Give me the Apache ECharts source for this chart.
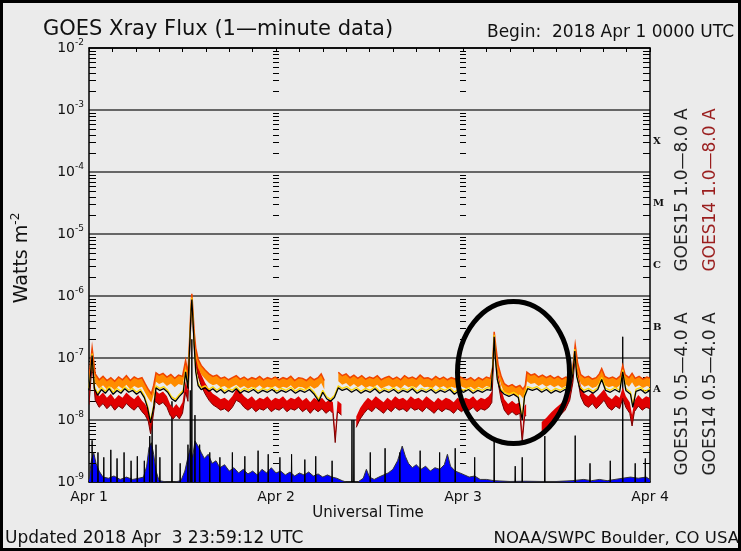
<!DOCTYPE html>
<html><head><meta charset="utf-8">
<script src="https://cdn.jsdelivr.net/npm/echarts@6/dist/echarts.min.js"></script>
<style>html,body{margin:0;padding:0;background:#ebebeb}#c{width:741px;height:551px}</style>
</head><body><div id="c"></div>
<script>
// ---------- data (hours since 2018 Apr 1 00:00 UTC, W m^-2) ----------
const dayLabels = ['Apr 1', 'Apr 2', 'Apr 3', 'Apr 4'];
const decadeExponents = [-9, -8, -7, -6, -5, -4, -3];
const minorMultipliers = [2, 3, 4, 5, 6, 7, 8, 9];
const tickColumns = [0, 24, 48, 72];
const classLetters = { '-7.5': 'A', '-6.5': 'B', '-5.5': 'C', '-4.5': 'M', '-3.5': 'X' };

const longOrange = [
[0,3.9e-8],[0.4,1.2e-7],[0.8,4.6e-8],[1.3,3.7e-8],[1.8,4.2e-8],[2.3,3.6e-8],[2.8,4.0e-8],[3.3,3.5e-8],[3.8,4.1e-8],[4.3,3.7e-8],
[4.8,4.3e-8],[5.3,3.6e-8],[5.8,4.1e-8],[6.3,3.8e-8],[6.8,4.0e-8],[7.2,3.2e-8],[7.6,2.6e-8],[8.0,2.2e-8],[8.3,3.0e-8],[8.6,4.8e-8],
[9.0,4.4e-8],[9.5,4.7e-8],[10.0,4.1e-8],[10.5,4.5e-8],[11.0,3.9e-8],[11.5,4.4e-8],[12.0,4.2e-8],[12.4,7.6e-8],[12.7,4.6e-8],[12.9,1.5e-7],
[13.1,6.0e-7],[13.2,9.0e-7],[13.35,4.5e-7],[13.5,2.2e-7],[13.7,1.2e-7],[14.0,8.0e-8],[14.4,6.3e-8],[14.9,5.3e-8],[15.4,4.6e-8],[15.9,4.2e-8],
[16.4,4.4e-8],[16.9,3.9e-8],[17.4,4.1e-8],[17.9,3.7e-8],[18.4,4.0e-8],[18.9,4.3e-8],[19.4,3.8e-8],[19.9,4.1e-8],[20.4,3.7e-8],[20.9,4.0e-8],
[21.4,3.8e-8],[21.9,4.2e-8],[22.4,3.7e-8],[22.9,4.0e-8],[23.4,3.8e-8],[23.9,4.1e-8],[24.4,3.7e-8],[24.9,4.0e-8],[25.4,3.8e-8],[25.9,4.2e-8],
[26.4,3.6e-8],[26.9,4.0e-8],[27.4,3.9e-8],[27.9,3.6e-8],[28.4,4.1e-8],[28.9,3.7e-8],[29.4,4.0e-8],[29.8,4.6e-8],[30.2,3.6e-8],[30.4,null],
[31.9,null],[32.0,4.9e-8],[32.5,4.3e-8],[33.0,4.6e-8],[33.5,4.0e-8],[34.0,4.4e-8],[34.5,3.9e-8],[35.0,4.3e-8],[35.5,3.8e-8],[36.0,4.1e-8],
[36.5,3.9e-8],[37.0,4.3e-8],[37.5,3.7e-8],[38.0,4.0e-8],[38.5,4.2e-8],[39.0,3.8e-8],[39.5,4.1e-8],[40.0,3.7e-8],[40.5,4.3e-8],[41.0,3.9e-8],
[41.5,4.1e-8],[42.0,3.8e-8],[42.5,4.4e-8],[43.0,3.9e-8],[43.5,4.0e-8],[44.0,3.7e-8],[44.5,4.2e-8],[45.0,3.8e-8],[45.5,4.1e-8],[46.0,3.7e-8],
[46.5,4.0e-8],[47.0,3.8e-8],[47.5,4.2e-8],[48.0,3.9e-8],[48.5,3.7e-8],[49.0,4.0e-8],[49.5,3.6e-8],[50.0,4.0e-8],[50.5,3.7e-8],[51.0,4.1e-8],
[51.5,3.9e-8],[51.8,5.8e-8],[52.0,2.2e-7],[52.2,1.3e-7],[52.5,6.5e-8],[52.9,4.2e-8],[53.3,3.2e-8],[53.8,2.9e-8],[54.3,3.1e-8],[54.8,2.8e-8],
[55.3,3.0e-8],[55.7,2.6e-8],[56.0,3.0e-8],[56.2,4.9e-8],[56.7,4.4e-8],[57.2,4.6e-8],[57.7,4.1e-8],[58.2,4.4e-8],[58.7,4.0e-8],[59.2,4.3e-8],
[59.7,3.9e-8],[60.2,4.2e-8],[60.7,3.8e-8],[61.2,4.1e-8],[61.7,3.9e-8],[62.1,6.0e-8],[62.4,1.35e-7],[62.7,7.0e-8],[63.1,4.5e-8],[63.6,4.0e-8],
[64.1,4.2e-8],[64.6,3.8e-8],[65.1,4.0e-8],[65.5,4.6e-8],[65.8,5.6e-8],[66.2,4.2e-8],[66.7,3.9e-8],[67.2,4.1e-8],[67.7,3.8e-8],[68.2,4.3e-8],
[68.5,6.3e-8],[68.8,4.5e-8],[69.3,4.0e-8],[69.7,4.7e-8],[70.1,3.9e-8],[70.6,4.2e-8],[71.1,3.8e-8],[71.6,4.1e-8],[72,3.9e-8]
];

const longBlack = [
[0,3.0e-8],[0.4,1.1e-7],[0.7,3.2e-8],[1.1,2.5e-8],[1.6,3.1e-8],[2.1,2.7e-8],[2.6,3.2e-8],[3.1,2.6e-8],[3.6,3.0e-8],[4.1,2.7e-8],
[4.6,3.2e-8],[5.1,2.8e-8],[5.6,3.0e-8],[6.1,2.6e-8],[6.6,2.9e-8],[7.1,2.3e-8],[7.5,1.6e-8],[7.9,9.0e-9],[8.3,1.6e-8],[8.6,3.3e-8],
[9.1,3.0e-8],[9.6,3.2e-8],[10.1,2.8e-8],[10.6,2.2e-8],[11.1,2.0e-8],[11.6,2.4e-8],[12.1,2.8e-8],[12.4,6.0e-8],[12.7,3.2e-8],[12.9,1.4e-7],
[13.1,5.8e-7],[13.2,8.8e-7],[13.35,4.0e-7],[13.5,1.6e-7],[13.7,6.0e-8],[14.0,3.6e-8],[14.4,3.1e-8],[14.9,3.3e-8],[15.4,2.9e-8],[15.9,3.2e-8],
[16.4,2.8e-8],[16.9,3.1e-8],[17.4,2.7e-8],[17.9,3.0e-8],[18.4,2.8e-8],[18.9,3.2e-8],[19.4,2.7e-8],[19.9,3.0e-8],[20.5,2.8e-8],[21.1,3.1e-8],
[21.7,2.7e-8],[22.3,3.0e-8],[22.9,2.8e-8],[23.5,3.1e-8],[24.1,2.7e-8],[24.7,3.0e-8],[25.3,2.8e-8],[25.9,3.1e-8],[26.5,2.7e-8],[27.1,3.0e-8],
[27.7,2.8e-8],[28.3,3.1e-8],[28.9,2.6e-8],[29.5,2.0e-8],[30.0,2.8e-8],[30.5,2.2e-8],[31.0,2.0e-8],[31.5,2.3e-8],[32.0,3.3e-8],[32.5,3.0e-8],
[33.1,3.2e-8],[33.7,2.8e-8],[34.3,3.1e-8],[34.9,2.7e-8],[35.5,3.0e-8],[36.1,2.8e-8],[36.7,3.2e-8],[37.3,2.7e-8],[37.9,3.0e-8],[38.5,2.8e-8],
[39.1,3.1e-8],[39.7,2.7e-8],[40.3,3.0e-8],[40.9,2.8e-8],[41.5,3.2e-8],[42.1,2.7e-8],[42.7,3.0e-8],[43.3,2.8e-8],[43.9,3.1e-8],[44.5,2.7e-8],
[45.1,3.0e-8],[45.7,2.8e-8],[46.3,3.1e-8],[46.9,2.6e-8],[47.5,3.0e-8],[48.1,2.8e-8],[48.7,3.1e-8],[49.3,2.7e-8],[49.9,3.0e-8],[50.5,2.8e-8],
[51.1,3.1e-8],[51.6,3.0e-8],[51.85,8.0e-8],[52.0,2.2e-7],[52.15,1.0e-7],[52.4,4.5e-8],[52.8,3.0e-8],[53.3,2.6e-8],[53.9,2.4e-8],[54.5,2.6e-8],
[55.1,2.3e-8],[55.6,1.0e-8],[55.9,2.4e-8],[56.3,3.2e-8],[56.9,3.0e-8],[57.5,3.2e-8],[58.1,2.8e-8],[58.7,3.1e-8],[59.3,2.7e-8],[59.9,3.0e-8],
[60.5,2.8e-8],[61.1,3.1e-8],[61.7,2.9e-8],[62.1,5.5e-8],[62.35,1.3e-7],[62.6,5.0e-8],[63.0,3.2e-8],[63.5,2.8e-8],[64.1,3.0e-8],[64.7,2.7e-8],
[65.3,3.1e-8],[65.8,4.5e-8],[66.3,3.0e-8],[66.9,2.8e-8],[67.5,3.1e-8],[68.1,2.8e-8],[68.5,6.0e-8],[68.9,3.0e-8],[69.5,2.6e-8],[69.8,1.6e-8],
[70.2,2.9e-8],[70.8,3.1e-8],[71.4,2.7e-8],[72,3.0e-8]
];

const longRed = [
[0,2.2e-8],[0.4,1.0e-7],[0.8,2.6e-8],[1.3,2.0e-8],[1.8,2.3e-8],[2.3,1.9e-8],[2.8,2.2e-8],[3.3,1.8e-8],[3.8,2.1e-8],[4.3,1.9e-8],
[4.8,2.3e-8],[5.3,2.0e-8],[5.8,1.8e-8],[6.3,2.1e-8],[6.8,1.7e-8],[7.2,1.5e-8],[7.6,1.2e-8],[7.9,7.5e-9],[8.1,1.1e-8],[8.5,2.5e-8],
[9.0,2.2e-8],[9.5,2.4e-8],[10.0,2.0e-8],[10.4,1.5e-8],[10.8,1.3e-8],[11.2,1.5e-8],[11.6,1.3e-8],[12.0,1.6e-8],[12.4,3.5e-8],[12.7,2.5e-8],
[12.9,1.3e-7],[13.1,5.5e-7],[13.2,8.5e-7],[13.35,4.2e-7],[13.5,2.0e-7],[13.7,1.0e-7],[14.0,6.5e-8],[14.4,4.5e-8],[14.9,3.3e-8],[15.4,2.6e-8],
[15.9,2.2e-8],[16.4,2.0e-8],[16.9,1.8e-8],[17.4,1.9e-8],[17.9,1.7e-8],[18.4,2.0e-8],[18.9,2.6e-8],[19.4,2.4e-8],[19.9,2.0e-8],[20.4,1.8e-8],
[20.9,2.0e-8],[21.4,1.7e-8],[21.9,1.9e-8],[22.4,1.8e-8],[22.9,2.0e-8],[23.4,1.7e-8],[23.9,1.9e-8],[24.4,1.8e-8],[24.9,2.0e-8],[25.4,1.7e-8],
[25.9,1.9e-8],[26.4,1.8e-8],[26.9,2.0e-8],[27.4,1.7e-8],[27.9,1.9e-8],[28.4,1.6e-8],[28.9,1.9e-8],[29.4,1.7e-8],[29.9,1.9e-8],[30.4,1.6e-8],
[30.9,1.8e-8],[31.3,1.6e-8],[31.6,5.4e-9],[31.9,1.7e-8],[32.4,1.5e-8],[32.6,null],[34.2,null],[34.3,9.5e-9],[34.8,1.3e-8],[35.3,1.6e-8],
[35.8,1.9e-8],[36.3,1.7e-8],[36.8,2.0e-8],[37.3,1.8e-8],[37.8,1.6e-8],[38.3,1.9e-8],[38.8,1.7e-8],[39.3,2.0e-8],[39.8,1.8e-8],[40.3,1.9e-8],
[40.8,1.7e-8],[41.3,2.0e-8],[41.8,1.8e-8],[42.3,1.9e-8],[42.8,1.7e-8],[43.3,2.0e-8],[43.8,1.8e-8],[44.3,1.6e-8],[44.8,1.9e-8],[45.3,1.7e-8],
[45.8,1.9e-8],[46.3,1.8e-8],[46.8,1.6e-8],[47.3,1.9e-8],[47.8,1.7e-8],[48.3,1.9e-8],[48.8,1.8e-8],[49.3,2.0e-8],[49.8,1.7e-8],[50.3,1.9e-8],
[50.8,1.8e-8],[51.3,2.0e-8],[51.7,2.4e-8],[52.0,1.9e-7],[52.2,1.1e-7],[52.5,5.0e-8],[52.9,2.6e-8],[53.3,1.8e-8],[53.8,1.5e-8],[54.3,1.7e-8],
[54.8,1.5e-8],[55.3,1.6e-8],[55.6,5.4e-9],[55.9,1.4e-8],[56.1,1.5e-8],[56.2,null],[58.0,null],[58.1,7.7e-9],[58.7,9.0e-9],[59.3,1.1e-8],
[59.9,1.3e-8],[60.5,1.5e-8],[61.1,1.8e-8],[61.7,2.6e-8],[62.1,5.0e-8],[62.4,1.3e-7],[62.7,6.0e-8],[63.1,3.0e-8],[63.6,2.2e-8],[64.1,2.0e-8],
[64.6,2.3e-8],[65.1,1.9e-8],[65.6,2.2e-8],[66.1,2.6e-8],[66.6,2.0e-8],[67.1,1.8e-8],[67.6,2.1e-8],[68.1,1.9e-8],[68.5,2.8e-8],[68.9,2.0e-8],
[69.4,1.6e-8],[69.7,1.0e-8],[70.0,1.7e-8],[70.5,2.1e-8],[71.0,1.8e-8],[71.5,2.0e-8],[72,1.9e-8]
];

const shortBlue = [
[0,1.1e-9],[0.3,2.2e-9],[0.6,3.0e-9],[0.9,2.0e-9],[1.3,1.5e-9],[1.8,1.2e-9],[2.5,1.15e-9],[3.2,1.25e-9],[4.0,1.1e-9],[4.8,1.2e-9],
[5.6,1.1e-9],[6.4,1.15e-9],[7.0,1.2e-9],[7.4,1.8e-9],[7.7,3.6e-9],[8.0,4.3e-9],[8.3,2.8e-9],[8.6,1.5e-9],[9.0,1.05e-9],[10.0,1.0e-9],
[11.0,1.0e-9],[11.8,1.05e-9],[12.3,1.5e-9],[12.7,2.5e-9],[13.0,3.5e-9],[13.3,2.5e-9],[13.6,4.6e-9],[14.0,3.8e-9],[14.4,3.0e-9],[14.8,2.4e-9],
[15.3,2.8e-9],[15.8,2.0e-9],[16.3,2.2e-9],[16.8,1.7e-9],[17.4,1.9e-9],[18.0,1.5e-9],[18.6,1.7e-9],[19.2,1.4e-9],[19.8,1.6e-9],[20.4,1.35e-9],
[21.0,1.5e-9],[21.6,1.3e-9],[22.2,1.6e-9],[22.8,1.4e-9],[23.4,1.7e-9],[24.0,1.4e-9],[24.6,1.5e-9],[25.2,1.3e-9],[25.8,1.45e-9],[26.4,1.25e-9],
[27.0,1.4e-9],[27.6,1.3e-9],[28.2,1.45e-9],[28.8,1.25e-9],[29.4,1.35e-9],[30.0,1.2e-9],[30.6,1.3e-9],[31.2,1.2e-9],[31.8,1.15e-9],[32.5,1.05e-9],
[33.0,1.0e-9],[34.5,1.0e-9],[35.2,1.15e-9],[35.6,1.6e-9],[36.0,1.2e-9],[36.6,1.1e-9],[37.2,1.2e-9],[37.8,1.3e-9],[38.4,1.4e-9],[39.0,1.6e-9],
[39.6,2.2e-9],[40.2,3.8e-9],[40.6,2.6e-9],[41.0,2.0e-9],[41.5,1.7e-9],[42.0,1.9e-9],[42.6,1.6e-9],[43.2,1.8e-9],[43.8,1.5e-9],[44.4,1.7e-9],
[45.0,1.6e-9],[45.6,1.9e-9],[46.0,2.8e-9],[46.4,1.8e-9],[47.0,1.5e-9],[47.6,1.4e-9],[48.2,1.3e-9],[48.8,1.2e-9],[49.5,1.25e-9],[50.2,1.1e-9],
[51.0,1.1e-9],[52.0,1.05e-9],[54.0,1.02e-9],[56.0,1.03e-9],[58.0,1.02e-9],[60.0,1.02e-9],[62.0,1.05e-9],[63.5,1.1e-9],[64.5,1.05e-9],[65.5,1.1e-9],
[66.5,1.05e-9],[67.5,1.1e-9],[68.5,1.15e-9],[69.5,1.2e-9],[70.5,1.15e-9],[71.5,1.2e-9],[72,1.1e-9]
];

const spikeTimes = [0.4,1.15,1.9,2.8,3.6,4.5,5.4,6.2,7.1,7.8,8.1,8.6,9.1,10.65,11.7,12.7,13.0,13.2,13.6,14.2,15.5,16.8,18.4,20.0,21.7,23.0,24.5,26.0,27.7,29.1,31.2,33.75,34.0,36.1,38.0,39.9,42.5,45.0,47.0,49.5,52.0,54.7,55.6,58.5,62.4,64.3,66.9,68.5,70.1,71.4];
const spikePeaks = [4.7e-9,3.0e-9,2.5e-9,3.3e-9,2.4e-9,3.0e-9,2.2e-9,2.6e-9,2.2e-9,5.5e-9,1.0e-8,4.0e-9,2.5e-9,2.0e-8,2.0e-9,4.0e-9,3.0e-8,2.0e-7,1.2e-8,4.0e-9,3.0e-9,2.5e-9,3.0e-9,2.6e-9,3.2e-9,2.8e-9,2.5e-9,2.8e-9,2.3e-9,2.6e-9,2.2e-9,1.0e-8,1.0e-8,3.0e-9,3.5e-9,3.0e-9,3.2e-9,3.0e-9,3.5e-9,2.5e-9,5.0e-9,1.8e-9,2.5e-9,5.5e-9,5.6e-9,2.0e-9,2.2e-9,2.2e-7,2.0e-9,2.4e-9];

// ---------- built structures ----------
const spikeData = [];
spikeTimes.forEach((t, i) => {
  spikeData.push([t - 0.04, 1.0e-9], [t, spikePeaks[i]], [t + 0.04, 1.0e-9], [t + 0.05, null]);
});
const tickData = [];
tickColumns.forEach(t => decadeExponents.forEach(e => minorMultipliers.forEach(m => tickData.push([t, m * Math.pow(10, e)]))));

// band renderer: draws the series as a filled band of fixed pixel height around its values
function bandRenderer(src, up, down, fill, topColor, botColor) {
  return function (params, api) {
    if (params.dataIndex !== 0) return null;
    const children = [];
    let run = [];
    const flush = () => {
      if (run.length > 1) {
        const top = run.map(p => [p[0], p[1] - up]);
        const bot = run.map(p => [p[0], p[1] + down]);
        children.push({ type: 'polygon', shape: { points: top.concat(bot.slice().reverse()) }, style: { fill: fill } });
        if (topColor) children.push({ type: 'polyline', shape: { points: top }, style: { stroke: topColor, lineWidth: 1.5, fill: 'none' } });
        if (botColor) children.push({ type: 'polyline', shape: { points: bot }, style: { stroke: botColor, lineWidth: 1, fill: 'none' } });
      }
      run = [];
    };
    src.forEach(d => { if (d[1] == null) flush(); else run.push(api.coord(d)); });
    flush();
    return { type: 'group', children: children };
  };
}

const FONT = '"DejaVu Sans", sans-serif';
const chart = echarts.init(document.getElementById('c'), null, { renderer: 'canvas' });

chart.setOption({
  animation: false,
  backgroundColor: '#ebebeb',
  grid: { left: 89, top: 48, width: 561, height: 434, containLabel: false },
  xAxis: [
    { type: 'value', min: 0, max: 72, interval: 24, position: 'bottom',
      axisLine: { show: true, onZero: false, lineStyle: { color: '#000', width: 1.5 } },
      axisTick: { show: false }, splitLine: { show: false },
      axisLabel: { margin: 8, color: '#111', fontFamily: FONT, fontSize: 14,
        formatter: v => dayLabels[Math.round(v / 24)] } },
    { type: 'value', min: 0, max: 72, interval: 3, position: 'top',
      axisLine: { show: true, onZero: false, lineStyle: { color: '#000', width: 1.5 } },
      axisTick: { show: true, inside: true, length: 4, lineStyle: { color: '#000' } },
      axisLabel: { show: false }, splitLine: { show: false } }
  ],
  yAxis: [
    { type: 'log', logBase: 10, min: 1e-9, max: 1e-2, splitNumber: 7, position: 'left',
      axisLine: { show: true, onZero: false, lineStyle: { color: '#000', width: 1.5 } },
      axisTick: { show: false },
      splitLine: { show: true, lineStyle: { color: '#3a3a3a', width: 1.5 } },
      axisLabel: { margin: 5, color: '#111', fontFamily: FONT,
        formatter: v => '{b|10}{s|-' + Math.abs(Math.round(Math.log10(v))) + '}',
        rich: { b: { fontSize: 14, fontFamily: FONT, color: '#111' },
                s: { fontSize: 9, fontFamily: FONT, color: '#111', padding: [0, 0, 10, 0] } } } },
    { type: 'value', min: -9, max: -2, interval: 0.5, position: 'right',
      axisLine: { show: true, onZero: false, lineStyle: { color: '#000', width: 1.5 } },
      axisTick: { show: false }, splitLine: { show: false },
      axisLabel: { margin: 3, color: '#111', fontFamily: '"DejaVu Serif", serif', fontWeight: 'bold', fontSize: 10,
        formatter: v => classLetters[v.toFixed(1)] || '' } }
  ],
  series: [
    { type: 'custom', name: 'minorTicks', xAxisIndex: 0, yAxisIndex: 0, z: 3, silent: true,
      data: tickData,
      renderItem: (params, api) => {
        const t = api.value(0);
        const p = api.coord([t, api.value(1)]);
        let x1, x2;
        if (t === 0) { x1 = p[0]; x2 = p[0] + 7; }
        else if (t === 72) { x1 = p[0] - 7; x2 = p[0]; }
        else { x1 = p[0] - 3; x2 = p[0] + 3; }
        return { type: 'line', shape: { x1: x1, y1: Math.round(p[1]) + 0.5, x2: x2, y2: Math.round(p[1]) + 0.5 },
                 style: { stroke: '#000', lineWidth: 1 } };
      } },
    { type: 'line', name: 'GOES14 0.5-4.0 A', data: shortBlue, symbol: 'none', z: 2,
      lineStyle: { color: '#333', width: 1 },
      areaStyle: { color: '#0000ff', opacity: 1, origin: 'start' } },
    { type: 'line', name: 'GOES15 0.5-4.0 A', data: spikeData, symbol: 'none', z: 3, connectNulls: false,
      lineStyle: { color: '#000', width: 1 } },
    { type: 'custom', name: 'GOES14 1.0-8.0 A', data: longRed, z: 4, clip: true, silent: true,
      renderItem: bandRenderer(longRed, 5, 6, '#e00000', null, '#7a0000') },
    { type: 'custom', name: 'orange', data: longOrange, z: 5, clip: true, silent: true,
      renderItem: bandRenderer(longOrange, 5, 4, '#ff8c00', '#f04400', null) },
    { type: 'line', name: 'GOES15 1.0-8.0 A', data: longBlack, symbol: 'none', z: 6, connectNulls: false,
      lineStyle: { color: '#000', width: 1.3, shadowColor: '#ffd800', shadowBlur: 0, shadowOffsetY: -2 } }
  ],
  graphic: [
    { type: 'text', x: 43, y: 30, style: { text: 'GOES Xray Flux (1\u2014minute data)', font: '21px ' + FONT, fill: '#111', align: 'left', verticalAlign: 'middle' } },
    { type: 'text', x: 487, y: 33, style: { text: 'Begin:  2018 Apr 1 0000 UTC', font: '17px ' + FONT, fill: '#111', align: 'left', verticalAlign: 'middle' } },
    { type: 'text', x: 22, y: 258, rotation: Math.PI / 2,
      style: { text: '{a|Watts m}{s|-2}', fill: '#111', align: 'center', verticalAlign: 'middle',
        rich: { a: { fontSize: 19, fontFamily: FONT, fill: '#111' }, s: { fontSize: 12, fontFamily: FONT, fill: '#111', padding: [0, 0, 12, 0] } } } },
    { type: 'text', x: 683, y: 190, rotation: Math.PI / 2, style: { text: 'GOES15 1.0\u20148.0 A', font: '17px ' + FONT, fill: '#222', align: 'center', verticalAlign: 'middle' } },
    { type: 'text', x: 711, y: 190, rotation: Math.PI / 2, style: { text: 'GOES14 1.0\u20148.0 A', font: '17px ' + FONT, fill: '#9a1e1e', align: 'center', verticalAlign: 'middle' } },
    { type: 'text', x: 683, y: 394, rotation: Math.PI / 2, style: { text: 'GOES15 0.5\u20144.0 A', font: '17px ' + FONT, fill: '#222', align: 'center', verticalAlign: 'middle' } },
    { type: 'text', x: 711, y: 394, rotation: Math.PI / 2, style: { text: 'GOES14 0.5\u20144.0 A', font: '17px ' + FONT, fill: '#222', align: 'center', verticalAlign: 'middle' } },
    { type: 'text', x: 368, y: 513, style: { text: 'Universal Time', font: '15px ' + FONT, fill: '#111', align: 'center', verticalAlign: 'middle' } },
    { type: 'text', x: 5, y: 539, style: { text: 'Updated 2018 Apr  3 23:59:12 UTC', font: '17px ' + FONT, fill: '#111', align: 'left', verticalAlign: 'middle' } },
    { type: 'text', x: 739, y: 539, style: { text: 'NOAA/SWPC Boulder, CO USA', font: '16.5px ' + FONT, fill: '#111', align: 'right', verticalAlign: 'middle' } },
    { type: 'ellipse', shape: { cx: 513.5, cy: 372.5, rx: 56, ry: 71 }, z: 100,
      style: { fill: 'none', stroke: '#000', lineWidth: 5 } },
    { type: 'rect', shape: { x: 1.5, y: 1.5, width: 738, height: 548 }, z: 100,
      style: { fill: 'none', stroke: '#000', lineWidth: 3 } }
  ]
});
</script></body></html>
